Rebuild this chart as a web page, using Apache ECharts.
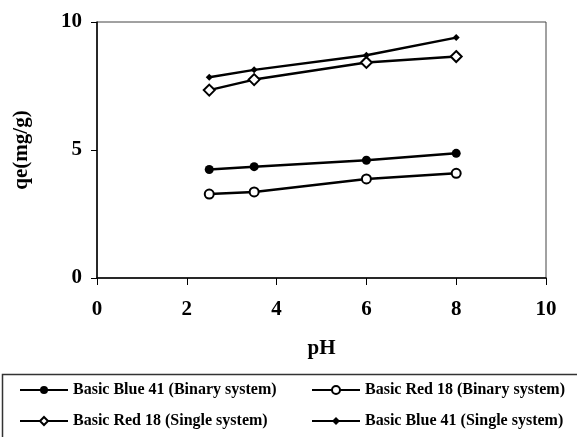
<!DOCTYPE html>
<html>
<head>
<meta charset="utf-8">
<script src="https://cdn.jsdelivr.net/npm/echarts@6/dist/echarts.min.js"></script>
<style>
html,body{margin:0;padding:0;background:#fff;}
#chart{width:577px;height:437px;}
</style>
</head>
<body>
<div id="chart"></div>
<script>
// Data
const pHValues = [2.5, 3.5, 6, 8];
const blue41Binary = [4.24, 4.35, 4.60, 4.87];
const red18Binary = [3.28, 3.36, 3.87, 4.09];
const red18Single = [7.34, 7.75, 8.42, 8.65];
const blue41Single = [7.84, 8.13, 8.70, 9.39];
const seriesNames = [
  'Basic Blue 41 (Binary system)',
  'Basic Red 18 (Binary system)',
  'Basic Red 18 (Single system)',
  'Basic Blue 41 (Single system)'
];

const FONT = 'Liberation Serif';
function pairs(ys) { return pHValues.map((x, i) => [x, ys[i]]); }

const chart = echarts.init(document.getElementById('chart'), null, {renderer: 'canvas'});

const lineStyle = {color: '#000', width: 2.5};
function legendAt(name, left, top) {
  return {
    data: [name], left: left, top: top, padding: 0,
    itemWidth: 48, itemHeight: 10,
    textStyle: {fontFamily: FONT, fontWeight: 'bold', fontSize: 16, color: '#000'},
    selectedMode: false
  };
}

chart.setOption({
  animation: false,
  backgroundColor: '#fff',
  grid: {left: 97, right: 31, top: 22, bottom: 159, show: true, borderColor: '#444', borderWidth: 1, backgroundColor: 'transparent'},
  xAxis: {
    type: 'value', min: 0, max: 10, interval: 2,
    name: 'pH', nameLocation: 'middle', nameGap: 60,
    nameTextStyle: {fontFamily: FONT, fontWeight: 'bold', fontSize: 21, color: '#000'},
    axisLine: {show: true, lineStyle: {color: '#000', width: 1.5}},
    axisTick: {show: true, inside: false, length: 7, lineStyle: {color: '#000', width: 1}},
    axisLabel: {margin: 21, fontFamily: FONT, fontWeight: 'bold', fontSize: 21, color: '#000'},
    splitLine: {show: false}
  },
  yAxis: {
    type: 'value', min: 0, max: 10, interval: 5,
    name: 'qe(mg/g)', nameLocation: 'middle', nameGap: 65,
    nameTextStyle: {fontFamily: FONT, fontWeight: 'bold', fontSize: 21, color: '#000'},
    axisLine: {show: true, lineStyle: {color: '#000', width: 1.5}},
    axisTick: {show: true, inside: false, length: 6, lineStyle: {color: '#000', width: 1}},
    axisLabel: {margin: 15, fontFamily: FONT, fontWeight: 'bold', fontSize: 21, color: '#000'},
    splitLine: {show: false}
  },
  legend: [
    legendAt(seriesNames[0], 19, 382),
    legendAt(seriesNames[1], 311, 382),
    legendAt(seriesNames[2], 19, 413),
    legendAt(seriesNames[3], 311, 413)
  ],
  graphic: [{
    type: 'rect', silent: true,
    shape: {x: 2.5, y: 374.5, width: 640, height: 120},
    style: {fill: 'none', stroke: '#333', lineWidth: 1.5}
  }],
  series: [
    {name: seriesNames[0], type: 'line', data: pairs(blue41Binary), symbol: 'circle', symbolSize: 9,
     lineStyle: lineStyle, itemStyle: {color: '#000'}},
    {name: seriesNames[1], type: 'line', data: pairs(red18Binary), symbol: 'emptyCircle', symbolSize: 9,
     lineStyle: lineStyle, itemStyle: {color: '#000', borderColor: '#000', borderWidth: 2.4}},
    {name: seriesNames[2], type: 'line', data: pairs(red18Single), symbol: 'emptyDiamond', symbolSize: 11,
     lineStyle: lineStyle, itemStyle: {color: '#000', borderColor: '#000', borderWidth: 2.4}},
    {name: seriesNames[3], type: 'line', data: pairs(blue41Single), symbol: 'diamond', symbolSize: 7,
     lineStyle: lineStyle, itemStyle: {color: '#000'}}
  ]
});
</script>
</body>
</html>
